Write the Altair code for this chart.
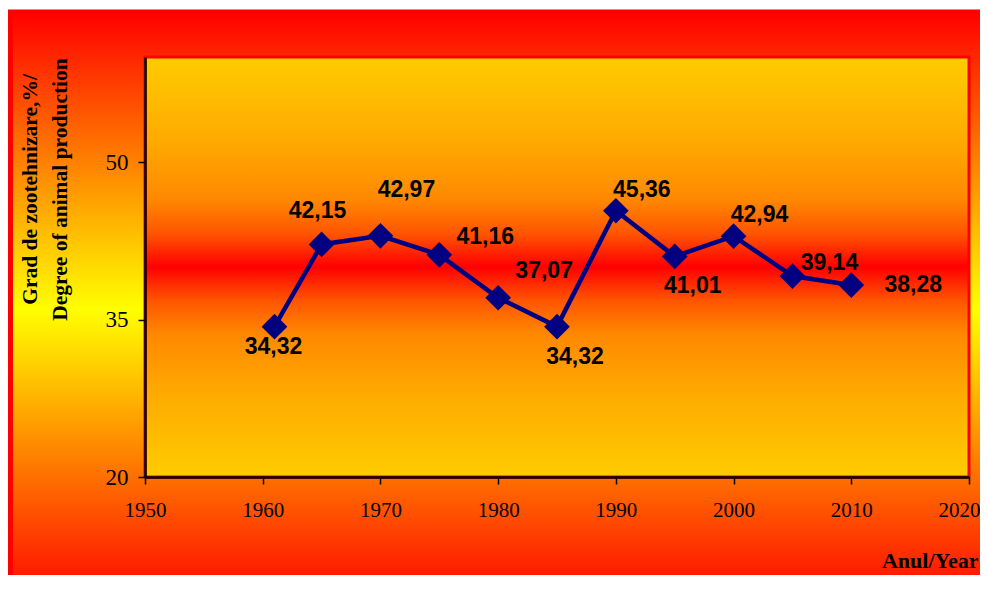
import altair as alt
import pandas as pd

# ---- data ----
years = [1961, 1965, 1970, 1975, 1980, 1985, 1990, 1995, 2000, 2005, 2010]
values = [34.32, 42.15, 42.97, 41.16, 37.07, 34.32, 45.36, 41.01, 42.94, 39.14, 38.28]
label_place = ["below", "above", "high above right", "right", "right low",
               "below right", "above right", "below right", "above right",
               "upper right", "far right"]
x_ticks = [1950, 1960, 1970, 1980, 1990, 2000, 2010, 2020]
y_ticks = [20, 35, 50]
y_title = ["Grad de zootehnizare,%/", "Degree of animal production"]
x_title = "Anul/Year"

# ---- styling ----
W, H = 824, 420
PAD = {"left": 137, "top": 49, "right": 11, "bottom": 98}
NAVY = "#000080"
place_offsets = {
    "below": (-1, 20),
    "above": (-4, -33),
    "high above right": (26, -46),
    "right": (46, -18),
    "right low": (46, -27),
    "below right": (18, 30),
    "above right": (26, -21),
    "upper right": (37, -13),
    "far right": (62, 0),
}

df = pd.DataFrame({
    "year": years,
    "value": values,
    "label": [f"{v:.2f}".replace(".", ",") for v in values],
    "place": label_place,
})

outer_grad = alt.LinearGradient(
    gradient="linear", x1=0, x2=0, y1=0, y2=1,
    stops=[alt.GradientStop(color="#ff0000", offset=0),
           alt.GradientStop(color="#ffff00", offset=0.5),
           alt.GradientStop(color="#ff0000", offset=1)],
)
inner_grad = alt.LinearGradient(
    gradient="linear", x1=0, x2=0, y1=0, y2=1,
    stops=[alt.GradientStop(color="#ffcc00", offset=0),
           alt.GradientStop(color="#ffaa00", offset=0.2),
           alt.GradientStop(color="#ff8800", offset=0.34),
           alt.GradientStop(color="#ff5500", offset=0.42),
           alt.GradientStop(color="#ff0000", offset=0.5),
           alt.GradientStop(color="#ff5500", offset=0.58),
           alt.GradientStop(color="#ff8800", offset=0.66),
           alt.GradientStop(color="#ffaa00", offset=0.8),
           alt.GradientStop(color="#ffcc00", offset=1)],
)

one = pd.DataFrame({"k": [0]})
outer_bg = alt.Chart(one).mark_rect(fill=outer_grad, stroke="#ff0000", strokeWidth=5).encode(
    x=alt.value(-134.5), x2=alt.value(W + 60),
    y=alt.value(-45), y2=alt.value(H + 130),
)
inner_bg = alt.Chart(one).mark_rect(fill=inner_grad, stroke="#ff0000", strokeWidth=3).encode(
    x=alt.value(0), x2=alt.value(W),
    y=alt.value(0), y2=alt.value(H),
)

x_enc = alt.X(
    "year:Q",
    scale=alt.Scale(domain=[1950, 2020], nice=False, zero=False),
    axis=alt.Axis(
        values=x_ticks, format="d", title=x_title,
        labelFont="Liberation Serif", labelFontSize=21, labelColor="black",
        labelPadding=15, labelFlush=False, labelOverlap=False,
        labelOffset=alt.expr("datum.value == 2020 ? -10 : 0"),
        tickSize=7, tickColor="black", tickWidth=1.5,
        domainColor="black", domainWidth=2.5, grid=False, zindex=2,
        titleFont="Liberation Serif", titleFontSize=22, titleFontWeight="bold",
        titleColor="black", titleAlign="right", titleAnchor="end",
        titleX=833, titleY=90, titleBaseline="alphabetic",
    ),
)
y_enc = alt.Y(
    "value:Q",
    scale=alt.Scale(domain=[20, 60], nice=False, zero=False),
    axis=alt.Axis(
        values=y_ticks, title=y_title,
        labelFont="Liberation Serif", labelFontSize=23, labelColor="black",
        labelPadding=10, labelFlush=False,
        tickSize=7, tickColor="black", tickWidth=1.5,
        domainColor="black", domainWidth=2.5, grid=False, zindex=2,
        titleFont="Liberation Serif", titleFontSize=21.5, titleFontWeight="bold",
        titleColor="black", titleAngle=270, titleAlign="center",
        titleBaseline="top", titleLineHeight=30,
        titleX=-126, titleY=132,
    ),
)

base = alt.Chart(df).encode(x=x_enc, y=y_enc)
line = base.mark_line(color=NAVY, strokeWidth=4.5)
points = base.mark_point(shape="diamond", filled=True, size=660, color=NAVY, opacity=1)

label_layers = []
for name, (dx, dy) in place_offsets.items():
    label_layers.append(
        base.transform_filter(alt.datum.place == name).mark_text(
            font="Liberation Sans", fontSize=23, fontWeight="bold", color="black",
            align="center", baseline="middle", dx=dx, dy=dy,
        ).encode(text="label:N")
    )

chart = alt.layer(outer_bg, inner_bg, line, points, *label_layers).properties(
    width=W, height=H,
    padding=PAD,
    autosize=alt.AutoSizeParams(type="none"),
    background="white",
).configure_view(stroke=None)

chart.save("out.html", embed_options={"renderer": "svg", "actions": False})
